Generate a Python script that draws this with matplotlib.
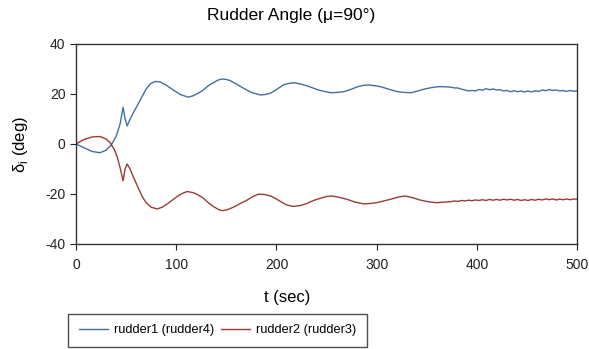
import matplotlib
matplotlib.use("Agg")
import matplotlib.pyplot as plt

plt.rcParams['font.family'] = ['Liberation Sans', 'DejaVu Sans']
plt.rcParams['mathtext.fontset'] = 'custom'
plt.rcParams['mathtext.rm'] = 'Liberation Sans'
plt.rcParams['axes.unicode_minus'] = False

# rudder1 (rudder4)
t1 = [0, 8, 16, 24, 30, 35, 40, 44, 47, 49, 51, 54, 57, 62, 66, 70, 74, 79, 84, 90,
      97, 104, 112, 117, 122, 127, 132, 137, 142, 146, 150, 154, 160, 167, 175, 184,
      189, 194, 200, 207, 212, 217, 224, 231, 237, 242, 248, 254, 260, 267, 274, 281,
      286, 292, 298, 304, 312, 321, 328, 334, 340, 347, 354, 361, 368,
      374, 377.5, 381, 384.5, 388, 391.5, 395, 398.5, 402, 405.5, 409, 412.5, 416,
      419.5, 423, 426.5, 430, 433.5, 437, 440.5, 444, 447.5, 451, 454.5, 458, 461.5,
      465, 468.5, 472, 475.5, 479, 482.5, 486, 489.5, 493, 496.5, 500]
d1 = [0, -1.5, -3, -3.5, -2.5, -0.5, 3, 8, 14.7, 10, 7.2, 10, 12.3, 16, 19, 22, 24,
      25, 24.8, 23.5, 21.6, 19.8, 18.7, 19.3, 20.3, 21.6, 23.3, 24.5, 25.6, 26, 25.8,
      25.3, 24, 22.3, 20.6, 19.6, 19.8, 20.3, 21.8, 23.6, 24.2, 24.5, 24, 23.2, 22.3,
      21.6, 21, 20.5, 20.6, 20.9, 21.8, 22.9, 23.4, 23.6, 23.3, 22.9, 21.9, 20.9,
      20.6, 20.5, 21.1, 21.9, 22.5, 22.9, 22.9,
      22.7, 22.4, 22.4, 21.9, 21.6, 21.2, 21.4, 21.2, 21.8, 21.5, 22.1, 21.7, 22.0,
      21.6, 21.7, 21.2, 21.4, 20.9, 21.3, 20.9, 21.2, 20.8, 21.2, 20.8, 21.3, 21.0,
      21.6, 21.3, 21.8, 21.4, 21.6, 21.2, 21.4, 21.0, 21.4, 21.1, 21.3]

# rudder2 (rudder3)
t2 = [0, 8, 16, 24, 30, 34, 38, 41, 44, 47, 49, 51, 54, 57, 62, 66, 70, 75, 81, 86,
      91, 96, 101, 106, 111, 117, 122, 127, 132, 137, 142, 146, 151, 157, 164, 171,
      177, 182, 188, 194, 199, 204, 210, 217, 224, 231, 237, 244, 250, 255, 262, 270,
      278, 287, 294, 300, 307, 314, 321, 328, 335, 343, 351, 360, 366,
      374, 377.5, 381, 384.5, 388, 391.5, 395, 398.5, 402, 405.5, 409, 412.5, 416,
      419.5, 423, 426.5, 430, 433.5, 437, 440.5, 444, 447.5, 451, 454.5, 458, 461.5,
      465, 468.5, 472, 475.5, 479, 482.5, 486, 489.5, 493, 496.5, 500]
d2 = [0, 1.8, 2.8, 3, 2, 0.5, -2, -5, -9.5, -14.7, -10, -8, -10, -13, -17.5, -21,
      -23.5, -25.3, -26, -25.3, -24, -22.5, -21, -19.8, -19, -19.5, -20.4, -21.7,
      -23.5, -25, -26.2, -26.7, -26.3, -25.3, -23.8, -22.4, -20.9, -20.1, -20.2,
      -20.8, -21.8, -23, -24.4, -25, -24.6, -23.7, -22.6, -21.7, -21, -20.8, -21.3,
      -22.1, -23.2, -24, -23.8, -23.5, -22.8, -22.1, -21.3, -20.8, -21.4, -22.4,
      -23.1, -23.5, -23.3,
      -23.1, -22.8, -23.0, -22.6, -22.8, -22.5, -22.7, -22.4, -22.6, -22.3, -22.6,
      -22.2, -22.5, -22.2, -22.5, -22.1, -22.4, -22.1, -22.5, -22.2, -22.6, -22.3,
      -22.6, -22.2, -22.5, -22.1, -22.4, -22.0, -22.3, -22.0, -22.4, -22.1, -22.3,
      -22.0, -22.3, -22.0, -22.1]

fig = plt.figure(figsize=(5.89, 3.49), dpi=100)
ax = fig.add_axes([0.129, 0.301, 0.851, 0.573])

ax.plot(t1, d1, color='#41709f', lw=1.0, label='rudder1 (rudder4)')
ax.plot(t2, d2, color='#9c3a35', lw=1.0, label='rudder2 (rudder3)')

ax.set_xlim(0, 500)
ax.set_ylim(-40, 40)
ax.set_xticks([0, 100, 200, 300, 400, 500])
ax.set_yticks([-40, -20, 0, 20, 40])
ax.tick_params(direction='out', length=4, labelsize=10, colors='#222222')
ax.tick_params(axis='x', pad=6)
for s in ax.spines.values():
    s.set_color('#333333')
    s.set_linewidth(1.0)

fig.text(0.495, 0.955, 'Rudder Angle (\u03bc=90\u00b0)', ha='center', va='center', fontsize=12.5)
fig.text(0.487, 0.148, 't (sec)', ha='center', va='center', fontsize=12)
fig.text(0.035, 0.585, '\u03b4$_\\mathrm{i}$ (deg)', ha='center', va='center',
         rotation=90, fontsize=12)

leg = fig.legend(loc='lower left', bbox_to_anchor=(0.115, 0.005),
                 ncol=2, fontsize=9.2, frameon=True, fancybox=False,
                 handlelength=2.3, handletextpad=0.45, columnspacing=0.55,
                 borderpad=0.85, borderaxespad=0)
leg.get_frame().set_edgecolor('#222222')
leg.get_frame().set_linewidth(1.0)

fig.savefig('out.png', dpi=100)
